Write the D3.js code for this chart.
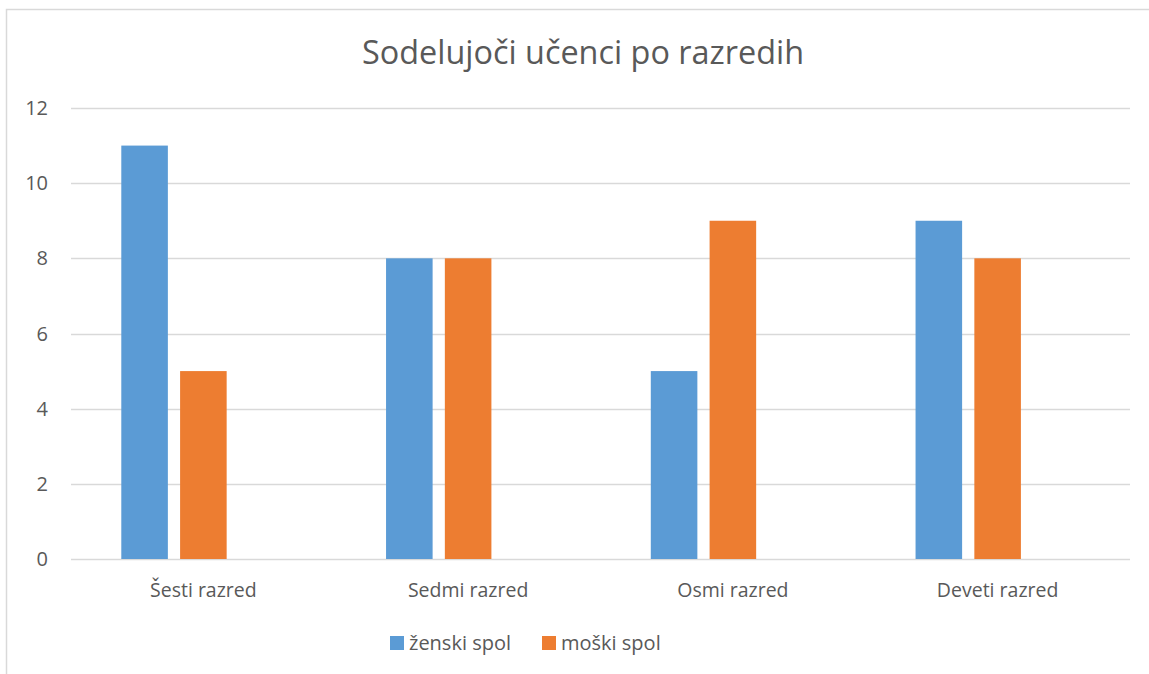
<!DOCTYPE html>
<html>
    <head>
        <meta charset="utf-8">
        <script src="https://d3js.org/d3.v7.min.js"></script>
        <style>
            body { margin: 0; background: #fff; }
            text { font-family: "Open Sans", sans-serif; fill: #595959; }
        </style>
    </head>
    <body>
        <svg id="chart" width="1149" height="674"></svg>

        <script>
            // data
            var categories = ["Šesti razred", "Sedmi razred", "Osmi razred", "Deveti razred"];
            var seriesNames = ["ženski spol", "moški spol"];
            var zenski = [11, 8, 5, 9];
            var moski = [5, 8, 9, 8];
            var yTicks = [0, 2, 4, 6, 8, 10, 12];
            var colors = ["#5B9BD5", "#ED7D31"];
            // the original sheet reserves a third (empty) slot per category
            var slots = ["ženski spol", "moški spol", "_empty"];

            var values = [zenski, moski];

            var svg = d3.select("#chart");

            // chart frame, cut off at right and bottom like the screenshot
            svg.append("path")
                .attr("d", "M6.5,680 V9.5 H1160")
                .attr("fill", "none")
                .attr("stroke", "#D9D9D9")
                .attr("stroke-width", 1.5);

            var plot = { left: 71, right: 1130, top: 108, bottom: 559 };

            var y = d3.scaleLinear()
                .domain([0, 12])
                .range([plot.bottom, plot.top]);

            var x0 = d3.scaleBand()
                .domain(categories)
                .range([plot.left, plot.right])
                .paddingInner(0)
                .paddingOuter(0);

            // inner scale for the series inside one category
            var x1 = d3.scaleBand()
                .domain(slots)
                .range([50.3, x0.bandwidth() - 50.3])
                .paddingInner(0.208)
                .paddingOuter(0);

            // gridlines
            svg.append("g")
                .selectAll("line")
                .data(yTicks)
                .enter().append("line")
                .attr("x1", plot.left)
                .attr("x2", plot.right)
                .attr("y1", function (d) { return Math.round(y(d)) + 0.5; })
                .attr("y2", function (d) { return Math.round(y(d)) + 0.5; })
                .attr("stroke", "#D9D9D9")
                .attr("stroke-width", 1.5);

            // y tick labels
            svg.append("g")
                .selectAll("text")
                .data(yTicks)
                .enter().append("text")
                .attr("x", 48)
                .attr("y", function (d) { return y(d) + 7; })
                .attr("text-anchor", "end")
                .style("font-size", "20px")
                .text(function (d) { return d; });

            // bars
            var groups = svg.append("g")
                .selectAll("g")
                .data(categories)
                .enter().append("g")
                .attr("transform", function (d) { return "translate(" + x0(d) + ",0)"; });

            groups.selectAll("rect")
                .data(function (d, i) {
                    return seriesNames.map(function (s, j) {
                        return { series: s, value: values[j][i], color: colors[j] };
                    });
                })
                .enter().append("rect")
                .attr("x", function (d) { return x1(d.series); })
                .attr("width", x1.bandwidth())
                .attr("y", function (d) { return y(d.value); })
                .attr("height", function (d) { return y(0) - y(d.value); })
                .attr("fill", function (d) { return d.color; });

            // category labels
            svg.append("g")
                .selectAll("text")
                .data(categories)
                .enter().append("text")
                .attr("x", function (d) { return x0(d) + x0.bandwidth() / 2; })
                .attr("y", 597)
                .attr("text-anchor", "middle")
                .style("font-size", "19.5px")
                .text(function (d) { return d; });

            // title
            svg.append("text")
                .attr("x", 583)
                .attr("y", 64)
                .attr("text-anchor", "middle")
                .style("font-size", "32.4px")
                .text("Sodelujoči učenci po razredih");

            // legend
            var legendX = [390, 542];
            var legend = svg.append("g")
                .selectAll("g")
                .data(seriesNames)
                .enter().append("g")
                .attr("transform", function (d, i) { return "translate(" + legendX[i] + ",636)"; });

            legend.append("rect")
                .attr("width", 14)
                .attr("height", 14)
                .attr("fill", function (d, i) { return colors[i]; });

            legend.append("text")
                .attr("x", 19)
                .attr("y", 14)
                .style("font-size", "20px")
                .text(function (d) { return d; });
        </script>
    </body>
</html>
